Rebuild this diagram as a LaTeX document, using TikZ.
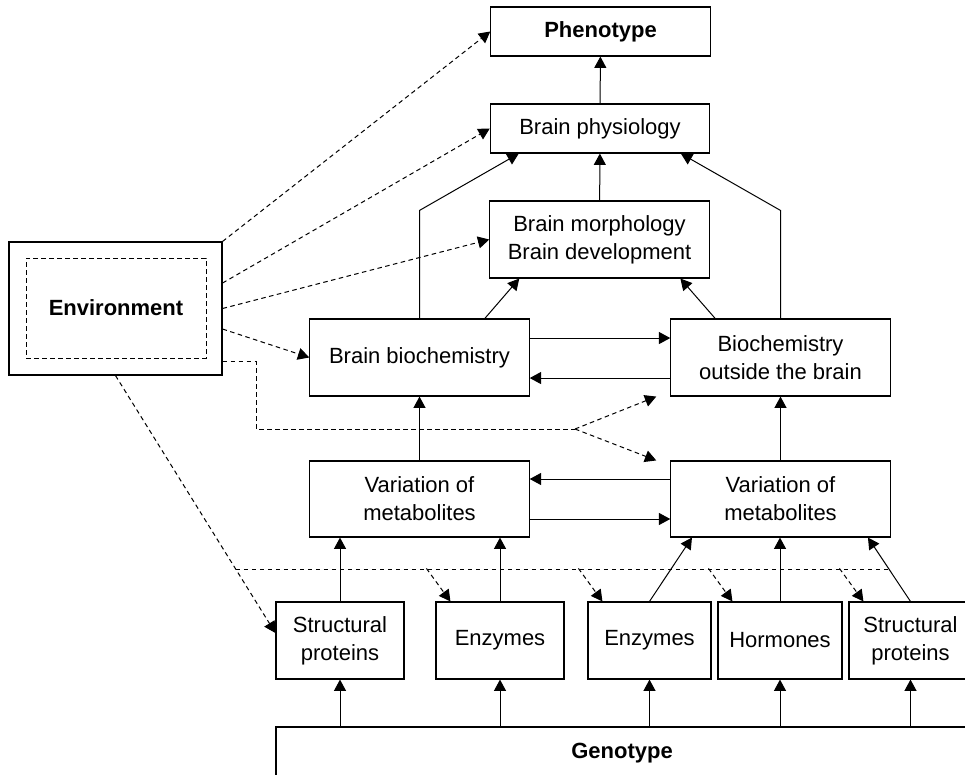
\documentclass[tikz,border=0pt]{standalone}
\usepackage{fontspec}
\setmainfont{Liberation Sans}
\usetikzlibrary{arrows.meta}

\begin{document}
\begin{tikzpicture}[
  x=0.75pt, y=-0.75pt,
  >={Triangle[length=8.5pt,width=9pt]},
  every node/.style={draw, line width=0.85pt, align=center, inner sep=2pt, font=\fontsize{16.5}{21}\selectfont},
  flatbox/.style={minimum width=164.5pt, minimum height=36.75pt},
  bigbox/.style={minimum width=164.5pt, minimum height=57.75pt},
  genebox/.style={minimum height=57.75pt},
  link/.style={->, line width=0.75pt},
  envline/.style={line width=0.75pt, dash pattern=on 3.4pt off 2.6pt},
  envlink/.style={envline, ->}
]
\useasboundingbox (0,0) rectangle (965,775);

\node[flatbox] (pheno) at (600.5,31.5) {\textbf{Phenotype}};
\node[flatbox] (physio) at (600,128.5) {Brain physiology};
\node[bigbox] (morph) at (599.5,239.5) {Brain morphology\\Brain development};
\node[bigbox] (biochem) at (419.5,357.5) {Brain biochemistry};
\node[bigbox] (outside) at (780.5,357.5) {Biochemistry\\outside the brain};
\node[bigbox, minimum height=57pt] (varL) at (419.5,499) {Variation of\\metabolites};
\node[bigbox, minimum height=57pt] (varR) at (780.5,499) {Variation of\\metabolites};

\node[minimum width=159.75pt, minimum height=99.75pt] (env) at (115.5,308.5) {};
\node[envline, minimum width=135pt, minimum height=75pt] (envin) at (116,308) {\textbf{Environment}};

\node[genebox, minimum width=96pt] (sp1) at (340,640.5) {Structural\\proteins};
\node[genebox, minimum width=96pt] (enz1) at (500,640.5) {Enzymes};
\node[genebox, minimum width=92.25pt] (enz2) at (649.5,640.5) {Enzymes};
\node[genebox, minimum width=93pt] (horm) at (780,640.5) {Hormones};
\node[genebox, minimum width=92.25pt] (sp2) at (910.5,640.5) {Structural\\proteins};
\node[minimum width=519pt, minimum height=49.5pt, text depth=13.5pt] (geno) at (622,760) {\textbf{Genotype}};

\draw[link] (physio) -- (pheno);
\draw[link] (morph) -- (physio);
\draw[link] (biochem.north) -- ++(0,-108) -- ([xshift=21.75pt]physio.south west);
\draw[link] (outside.north) -- ++(0,-108) -- ([xshift=-22pt]physio.south east);
\draw[link] ([xshift=49pt]biochem.north) -- ([xshift=22.5pt]morph.south west);
\draw[link] ([xshift=-49pt]outside.north) -- ([xshift=-22pt]morph.south east);
\draw[link] ([yshift=14.6pt]biochem.east) -- ([yshift=14.6pt]outside.west);
\draw[link] ([yshift=-15.4pt]outside.west) -- ([yshift=-15.4pt]biochem.east);
\draw[link] (varL) -- (biochem);
\draw[link] (varR) -- (outside);
\draw[link] ([yshift=15pt]varR.west) -- ([yshift=15pt]varL.east);
\draw[link] ([yshift=-15pt]varL.east) -- ([yshift=-15pt]varR.west);
\draw[link] (sp1) -- (sp1 |- varL.south);
\draw[link] (enz1) -- (enz1 |- varL.south);
\draw[link] (enz2.north) -- ([xshift=-66.4pt]varR.south);
\draw[link] (horm) -- (horm |- varR.south);
\draw[link] (sp2.north) -- ([xshift=65.6pt]varR.south);
\foreach \b in {sp1,enz1,enz2,horm,sp2}
  \draw[link] (\b.south |- geno.north) -- (\b.south);

\draw[envlink] (env.north east) -- (pheno.west);
\draw[envlink] ([yshift=19.1pt]env.east) -- (physio.west);
\draw[envlink] (env.east) -- (morph.west);
\draw[envlink] ([yshift=-15.4pt]env.east) -- (biochem.west);
\draw[envline] ([yshift=-40pt]env.east) -| (256,429) -- (575,429) coordinate (split);
\draw[envlink] (split) -- ([xshift=-10.5pt]outside.south west);
\draw[envlink] (split) -- ([xshift=-10.5pt]varR.north west);
\draw[envlink] (env.south) -- coordinate[pos=0.752] (bus) ([yshift=5.6pt]sp1.west);
\draw[envline] (bus) -- ++(652,0);
\foreach \b in {enz1,enz2,horm,sp2}
  \draw[envlink] ([xshift=-6.75pt,yshift=24.75pt]\b.north west) -- ([xshift=11.25pt]\b.north west);

\end{tikzpicture}
\end{document}
